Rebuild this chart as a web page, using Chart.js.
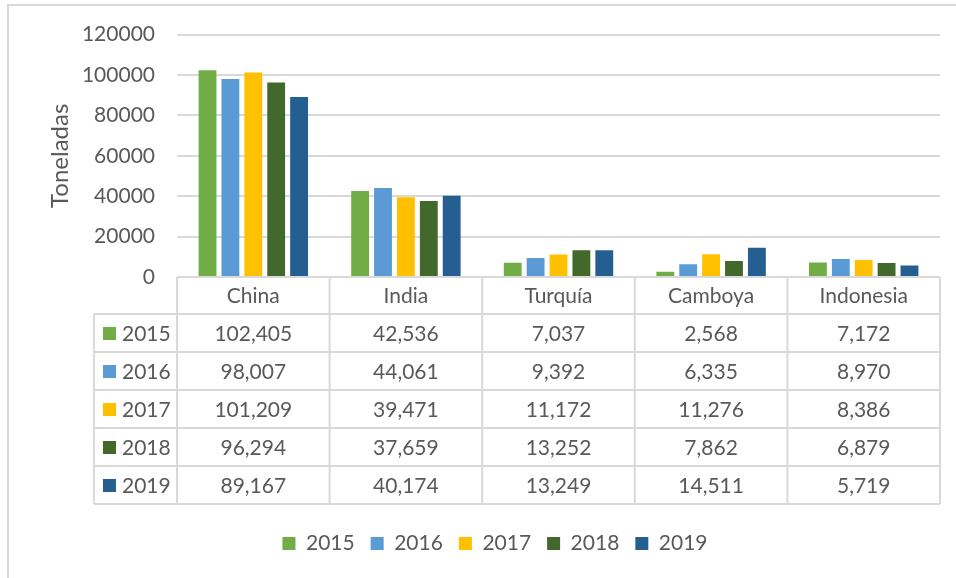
<!DOCTYPE html>
<html>
<head>
<meta charset="utf-8">
<script src="https://cdn.jsdelivr.net/npm/chart.js@4"></script>
<style>
  html, body { margin: 0; padding: 0; background: #fff; }
  #wrap { position: relative; width: 956px; height: 578px; overflow: hidden; }
  #frame { position: absolute; left: 7px; top: 4px; width: 970px; height: 600px; border: 2px solid #D9D9D9; box-sizing: border-box; }
  canvas { position: absolute; left: 0; top: 0; }
</style>
</head>
<body>
<div id="wrap">
  <div id="frame"></div>
  <canvas id="chart" width="956" height="578"></canvas>
</div>
<script>
const categories = ['China', 'India', 'Turquía', 'Camboya', 'Indonesia'];
const years = ['2015', '2016', '2017', '2018', '2019'];
const v2015 = [102405, 42536, 7037, 2568, 7172];
const v2016 = [98007, 44061, 9392, 6335, 8970];
const v2017 = [101209, 39471, 11172, 11276, 8386];
const v2018 = [96294, 37659, 13252, 7862, 6879];
const v2019 = [89167, 40174, 13249, 14511, 5719];
const yTicks = [0, 20000, 40000, 60000, 80000, 100000, 120000];

const colors = ['#70AD47', '#5B9BD5', '#FFC000', '#43682B', '#255E91'];
const seriesValues = [v2015, v2016, v2017, v2018, v2019];
const FONT = 'Lato, "Open Sans", sans-serif';
const TXT = '#595959';
const LINE = '#D9D9D9';

const TABLE_ROW = 38;        // height of one table row
const TABLE_HEAD = 37;       // height of the category header row
const TABLE_LEFT = 94;       // left edge of the series-name column

// draws the Excel-style data table under the plot + the rotated axis title
const dataTable = {
  id: 'dataTable',
  afterDraw(chart) {
    const ctx = chart.ctx;
    const x = chart.scales.x;
    const area = chart.chartArea;
    const top = area.bottom;
    const headBottom = top + TABLE_HEAD;
    const bottom = headBottom + TABLE_ROW * years.length;
    const n = categories.length;
    const step = (area.right - area.left) / n;

    ctx.save();
    ctx.strokeStyle = LINE;
    ctx.lineWidth = 2;
    ctx.beginPath();
    ctx.moveTo(area.left, top); ctx.lineTo(area.right, top);
    for (let r = 0; r <= years.length; r++) {
      const y = headBottom + r * TABLE_ROW;
      ctx.moveTo(TABLE_LEFT, y); ctx.lineTo(area.right, y);
    }
    ctx.moveTo(TABLE_LEFT, headBottom); ctx.lineTo(TABLE_LEFT, bottom);
    for (let c = 0; c <= n; c++) {
      const xx = area.left + c * step;
      ctx.moveTo(xx, top); ctx.lineTo(xx, bottom);
    }
    ctx.stroke();

    ctx.fillStyle = TXT;
    ctx.font = '21px ' + FONT;
    ctx.textAlign = 'center';
    ctx.textBaseline = 'middle';
    categories.forEach((c, i) => {
      ctx.fillText(c, x.getPixelForValue(i), top + TABLE_HEAD / 2 + 1);
    });
    seriesValues.forEach((vals, r) => {
      const cy = headBottom + r * TABLE_ROW + TABLE_ROW / 2 + 1;
      ctx.fillStyle = colors[r];
      ctx.fillRect(TABLE_LEFT + 9, cy - 7, 13, 13);
      ctx.fillStyle = TXT;
      ctx.textAlign = 'left';
      ctx.fillText(years[r], TABLE_LEFT + 28, cy);
      ctx.textAlign = 'center';
      vals.forEach((v, i) => {
        ctx.fillText(v.toLocaleString('en-US'), x.getPixelForValue(i), cy);
      });
    });

    // axis title
    ctx.translate(60, (area.top + area.bottom) / 2);
    ctx.rotate(-Math.PI / 2);
    ctx.font = '24px ' + FONT;
    ctx.textAlign = 'center';
    ctx.fillText('Toneladas', 0, 0);
    ctx.restore();
  }
};

new Chart(document.getElementById('chart'), {
  type: 'bar',
  data: {
    labels: categories,
    datasets: years.map((y, i) => ({
      label: y,
      data: seriesValues[i],
      backgroundColor: colors[i],
      categoryPercentage: 0.75,
      barPercentage: 0.78
    }))
  },
  options: {
    responsive: false,
    animation: false,
    layout: { padding: { left: 50, right: 16, top: 34, bottom: 14 } },
    plugins: {
      tooltip: { enabled: false },
      legend: {
        position: 'bottom',
        labels: {
          color: TXT,
          font: { family: FONT, size: 21 },
          boxWidth: 13,
          boxHeight: 13,
          padding: 16
        }
      }
    },
    scales: {
      x: {
        grid: { display: false },
        border: { display: false },
        ticks: { display: false },
        afterFit(scale) { scale.height = TABLE_HEAD + TABLE_ROW * years.length + 13; }
      },
      y: {
        min: 0,
        max: 120000,
        afterBuildTicks(scale) { scale.ticks = yTicks.map(v => ({ value: v })); },
        afterFit(scale) { scale.width = 127; },
        grid: { color: LINE, lineWidth: 2, drawTicks: false },
        border: { display: false },
        ticks: {
          color: TXT,
          font: { family: FONT, size: 21 },
          padding: 22,
          callback: v => String(v)
        }
      }
    }
  },
  plugins: [dataTable]
});
</script>
</body>
</html>
